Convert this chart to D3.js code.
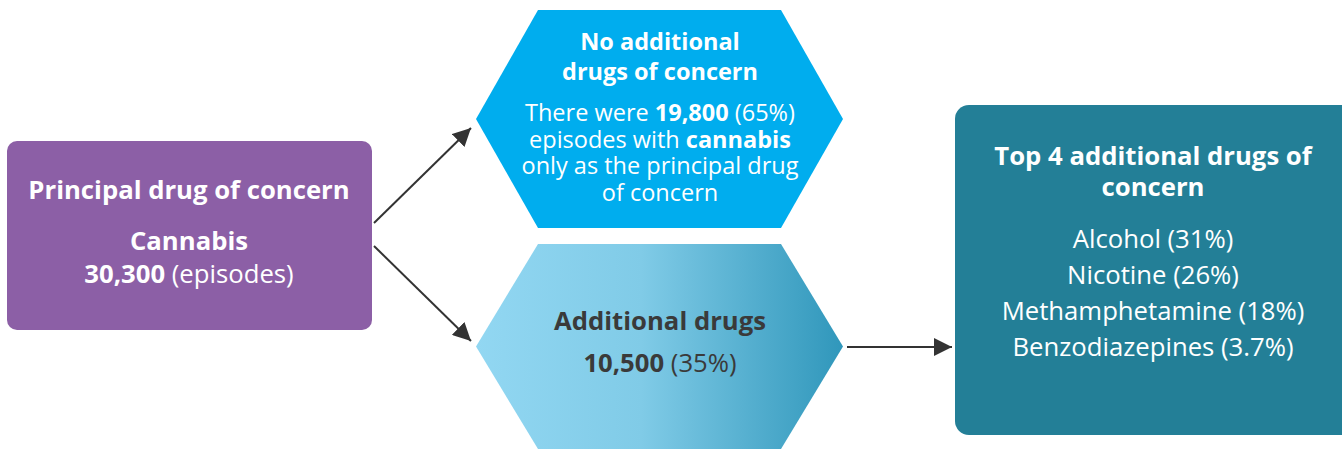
<!DOCTYPE html>
<html>
<head>
<meta charset="utf-8">
<script src="https://cdn.jsdelivr.net/npm/d3@7"></script>
<style>
  body { margin: 0; background: #fff; }
  svg { display: block; font-family: "Open Sans", sans-serif; }
</style>
</head>
<body>
<svg width="1342" height="449"></svg>
<script>
// values
var principalDrug = 'Cannabis';
var totalEpisodes = 30300;
var noAdditionalEpisodes = 19800;
var noAdditionalPct = 65;
var additionalEpisodes = 10500;
var additionalPct = 35;
var topDrugs = ['Alcohol', 'Nicotine', 'Methamphetamine', 'Benzodiazepines'];
var topDrugPcts = ['31%', '26%', '18%', '3.7%'];

var fmt = d3.format(',');
var svg = d3.select('svg');

var defs = svg.append('defs');
var grad = defs.append('linearGradient').attr('id', 'addGrad')
    .attr('x1', '0%').attr('x2', '100%').attr('y1', '0%').attr('y2', '0%');
grad.append('stop').attr('offset', '0%').attr('stop-color', '#92d7f2');
grad.append('stop').attr('offset', '45%').attr('stop-color', '#80cbe7');
grad.append('stop').attr('offset', '100%').attr('stop-color', '#3097bb');

var marker = defs.append('marker').attr('id', 'arrow')
    .attr('viewBox', '0 0 10 10').attr('refX', 10).attr('refY', 5)
    .attr('markerWidth', 18).attr('markerHeight', 18)
    .attr('markerUnits', 'userSpaceOnUse')
    .attr('orient', 'auto');
marker.append('path').attr('d', 'M0,0L10,5L0,10Z').attr('fill', '#333');

function hexagon(x0, x1, y0, y1, inset) {
    var ym = (y0 + y1) / 2;
    return d3.line()([[x0 + inset, y0], [x1 - inset, y0], [x1, ym], [x1 - inset, y1], [x0 + inset, y1], [x0, ym]]) + 'Z';
}

// boxes
svg.append('rect').attr('x', 7).attr('y', 141).attr('width', 365).attr('height', 189)
    .attr('rx', 10).attr('fill', '#8c5fa6');
svg.append('path').attr('d', hexagon(476, 843, 10, 228, 62)).attr('fill', '#00adee');
svg.append('path').attr('d', hexagon(476, 843, 244, 449, 62)).attr('fill', 'url(#addGrad)');
svg.append('rect').attr('x', 955).attr('y', 105).attr('width', 400).attr('height', 330)
    .attr('rx', 14).attr('fill', '#237f97');

// arrows
var arrows = [[[374, 223], [471, 128]], [[374, 246], [471, 341]], [[847, 347], [952, 347]]];
svg.selectAll('line.arr').data(arrows).enter().append('line')
    .attr('class', 'arr')
    .attr('x1', d => d[0][0]).attr('y1', d => d[0][1])
    .attr('x2', d => d[1][0]).attr('y2', d => d[1][1])
    .attr('stroke', '#333').attr('stroke-width', 2)
    .attr('marker-end', 'url(#arrow)');

function addText(x, y, parts, size, color) {
    var t = svg.append('text').attr('x', x).attr('y', y)
        .attr('text-anchor', 'middle').attr('font-size', size).attr('fill', color);
    parts.forEach(p => {
        t.append('tspan').attr('font-weight', p[1] ? 700 : 400).text(p[0]);
    });
    return t;
}

var big = 25.7, mid = 23.5;

// left
addText(189, 199, [['Principal drug of concern', true]], big, '#fff');
addText(189, 250, [[principalDrug, true]], big, '#fff');
addText(189, 283, [[fmt(totalEpisodes), true], [' (episodes)', false]], big, '#fff');

// top hexagon
addText(660, 50, [['No additional', true]], mid, '#fff');
addText(660, 80, [['drugs of concern', true]], mid, '#fff');
addText(660, 121, [['There were ', false], [fmt(noAdditionalEpisodes), true], [' (' + noAdditionalPct + '%)', false]], mid, '#fff');
addText(660, 147.5, [['episodes with ', false], ['cannabis', true]], mid, '#fff');
addText(660, 174, [['only as the principal drug', false]], mid, '#fff');
addText(660, 200.5, [['of concern', false]], mid, '#fff');

// bottom hexagon
addText(660, 330, [['Additional drugs', true]], big, '#3a3a3a');
addText(660, 372, [[fmt(additionalEpisodes), true], [' (' + additionalPct + '%)', false]], big, '#3a3a3a');

// right box
addText(1153, 165, [['Top 4 additional drugs of', true]], big, '#fff');
addText(1153, 196, [['concern', true]], big, '#fff');
var yItems = d3.scalePoint().domain(topDrugs).range([248, 356]);
topDrugs.forEach((d, i) => {
    addText(1153, yItems(d), [[d + ' (' + topDrugPcts[i] + ')', false]], big, '#fff');
});
</script>
</body>
</html>
